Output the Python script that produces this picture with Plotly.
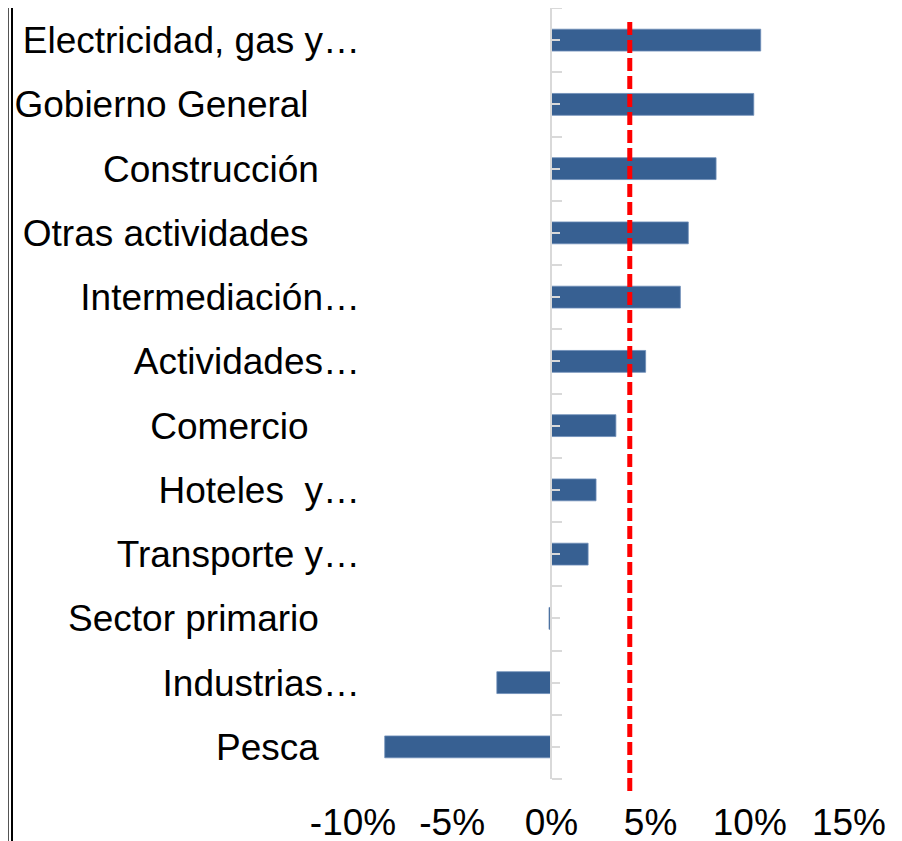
import plotly.graph_objects as go

# Data (top to bottom as shown)
sectors = [
    "Electricidad, gas y…",
    "Gobierno General     ",
    "Construcción    ",
    "Otras actividades     ",
    "Intermediación…",
    "Actividades…",
    "Comercio     ",
    "Hoteles  y…",
    "Transporte y…",
    "Sector primario    ",
    "Industrias…",
    "Pesca    ",
]
growth = [0.1055, 0.102, 0.083, 0.069, 0.065, 0.0475, 0.0325, 0.0225, 0.0185, -0.0012, -0.0275, -0.084]
average = 0.0395

x_tickvals = [-0.10, -0.05, 0.0, 0.05, 0.10, 0.15]
x_ticktext = ["-10%", "-5%", "0%", "5%", "10%", "15%"]

W, H = 902, 841
FONT = "Liberation Sans, Arial, sans-serif"
BAR_COLOR = "#376092"
AXIS_GRAY = "#d9d9d9"

# plot area in figure pixels (page body adds an 8px offset)
left_px, right_px = 345, 841
top_px, bottom_px = 0, 771
x_dom = [left_px / W, right_px / W]
y_dom = [(H - bottom_px) / H, (H - top_px) / H]

x_range = [-0.10, 0.15]
zero_pos = x_dom[0] + (0 - x_range[0]) / (x_range[1] - x_range[0]) * (x_dom[1] - x_dom[0])

labels = [s.replace(" ", "\u00a0") for s in sectors]
n = len(labels)

fig = go.Figure()

fig.add_trace(go.Bar(
    x=growth,
    y=labels,
    orientation="h",
    width=0.34,
    marker=dict(color=BAR_COLOR, line=dict(color="#6d8db8", width=0.8)),
    showlegend=False,
))

# invisible companion trace so the zero axis (y2) gets drawn
fig.add_trace(go.Scatter(
    x=growth,
    y=list(range(n)),
    yaxis="y2",
    mode="markers",
    marker=dict(opacity=0),
    hoverinfo="skip",
    showlegend=False,
))

# red dashed average line
fig.add_shape(
    type="line", xref="x", yref="paper",
    x0=average, x1=average,
    y0=(H - 783) / H, y1=(H - 11) / H,
    line=dict(color="#ff0000", width=5, dash="13px,5px"),
)

# frame lines at the picture edges (double rule on the left)
for xp, wd, col in [(0.5, 1, "#555555"), (4, 2, "#000000"), (892.5, 1.2, "#333333")]:
    fig.add_shape(
        type="line", xref="paper", yref="paper",
        x0=xp / W, x1=xp / W, y0=0, y1=1,
        line=dict(color=col, width=wd),
    )

fig.update_layout(
    width=W, height=H,
    margin=dict(l=0, r=0, t=0, b=0),
    paper_bgcolor="white",
    plot_bgcolor="white",
    font=dict(family=FONT, size=37, color="black"),
    bargap=0.66,
    xaxis=dict(
        domain=x_dom,
        range=x_range,
        automargin=False,
        tickmode="array",
        tickvals=x_tickvals,
        ticktext=x_ticktext,
        showgrid=False,
        zeroline=False,
        showline=False,
        ticks="",
        ticklabelstandoff=18,
    ),
    yaxis=dict(
        domain=y_dom,
        autorange="reversed",
        automargin=False,
        showgrid=False,
        zeroline=False,
        showline=False,
        ticks="",
        ticklabelstandoff=-8,
    ),
    yaxis2=dict(
        type="linear",
        overlaying="y",
        anchor="free",
        position=zero_pos,
        side="right",
        range=[n - 0.5, -0.5],
        automargin=False,
        showline=True,
        linecolor=AXIS_GRAY,
        linewidth=2,
        showgrid=False,
        zeroline=False,
        showticklabels=False,
        ticks="outside",
        tickmode="array",
        tickvals=[i - 0.5 for i in range(n + 1)],
        ticklen=10,
        tickwidth=2,
        tickcolor=AXIS_GRAY,
        minor=dict(
            tickmode="array",
            tickvals=list(range(n)),
            ticks="outside",
            ticklen=8,
            tickwidth=2,
            tickcolor=AXIS_GRAY,
        ),
    ),
)

fig.write_html("out.html")
